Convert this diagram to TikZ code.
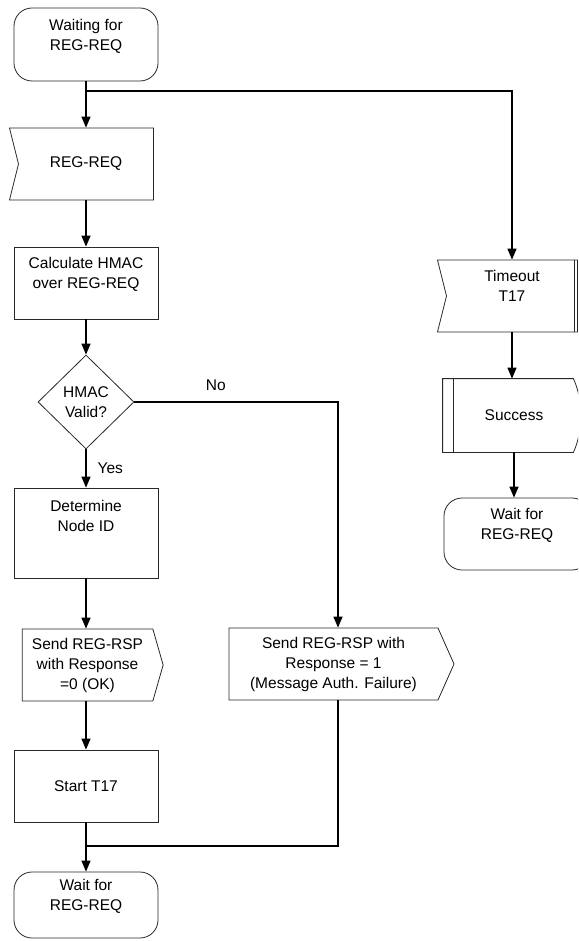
\documentclass[tikz,border=0pt]{standalone}
\usepackage{fontspec}
\setmainfont{Liberation Sans}
\usetikzlibrary{shapes.geometric, shapes.symbols, arrows.meta, positioning, calc}
\definecolor{linecolor}{RGB}{40,40,40}

\begin{document}
\begin{tikzpicture}[
    x=1pt, y=-1pt,
    font=\fontsize{15.5}{20}\selectfont,
    box/.style={draw=linecolor, line width=0.8pt, minimum width=144pt, minimum height=72pt, inner sep=0pt, align=center},
    term/.style={box, rounded corners=18pt},
    decision/.style={draw=linecolor, line width=0.8pt, diamond, minimum width=96pt, minimum height=94pt, inner sep=0pt, align=center},
    inbox/.style={box, signal, signal from=west, signal to=nowhere, signal pointer angle=152},
    outbox/.style={box, signal, signal to=east, signal pointer angle=#1},
    subproc/.style={box, draw=none},
    flow/.style={line width=1.3pt, -{Triangle[length=11pt, width=9pt]}},
    joinline/.style={line width=1.3pt},
    lbl/.style={inner sep=0pt}
]
    \useasboundingbox (0,0) rectangle (578,941);
    \clip (0,0) rectangle (578,941);

    % Main column
    \node[term, minimum height=73pt] (start) at (86,44.5) {Waiting for\\REG-REQ\\\mbox{}};
    \node[inbox] (regreq) at (86,164) {REG-REQ};
    \node[box] (calc) at (86,283) {Calculate HMAC\\over REG-REQ\\\mbox{}};
    \node[decision] (valid) at (86,402) {HMAC\\Valid?};
    \node[box, minimum height=90pt] (determine) at (86,533) {Determine\\Node ID\\[14pt]\mbox{}};
    \node[outbox=148, minimum width=141pt] (sendok) at (87.5,665) {Send REG-RSP\\with Response\\=0 (OK)};
    \node[box] (start17) at (86,786) {Start T17};
    \node[term, minimum height=66pt] (waitl) at (86,905) {Wait for\\REG-REQ\\\mbox{}};

    % Failure branch
    \node[outbox=132, minimum width=225pt] (nofail) at (333.5,664) {Send REG-RSP with\\Response = 1\\(Message Auth. Failure)};

    % Timeout column
    \node[inbox, minimum width=140pt] (timeout) at (512,296) {Timeout\\T17\\\mbox{}};
    \node[subproc, minimum width=142pt, minimum height=73pt] (success) at (514,415.5) {Success};
    \node[term, minimum width=146pt] (waitr) at (517,534) {Wait for\\REG-REQ\\\mbox{}};

    % Extra outlines
    \draw[linecolor, line width=0.8pt] ($(timeout.north)+(62,0)$) -- ($(timeout.south)+(62,0)$);
    \draw[linecolor, line width=0.8pt] ($(success.north east)+(-12,0)$) -- (success.north west) -- (success.south west) -- ($(success.south east)+(-12,0)$)
        .. controls ($(success.east)+(-2,15)$) and ($(success.east)+(-2,-15)$) .. cycle;
    \draw[linecolor, line width=0.8pt] ($(success.north west)+(11,0)$) -- ($(success.south west)+(11,0)$);

    % Connections
    \coordinate (split) at (86,91);
    \coordinate (join) at (86,846);
    \draw[flow] (start.south) -- (regreq.north);
    \draw[flow] (split) -| (timeout.north);
    \draw[flow] (regreq.south) -- (calc.north);
    \draw[flow] (calc.south) -- (valid.north);
    \draw[flow] (valid.south) -- node[lbl, right=11pt] {Yes} (determine.north);
    \draw[flow] (determine.south) -- (determine.south |- sendok.north);
    \draw[flow] (start17.north |- sendok.south) -- (start17.north);
    \draw[flow] (start17.south) -- (waitl.north);
    \draw[flow] (valid.east) -| node[lbl, pos=0.2, above=11pt] {No} ([xshift=4.5pt]nofail.north);
    \draw[joinline] ([xshift=4.5pt]nofail.south) |- (join);
    \draw[flow] (timeout.south) -- (timeout.south |- success.north);
    \draw[flow] (success.south) -- (success.south |- waitr.north);
\end{tikzpicture}
\end{document}
